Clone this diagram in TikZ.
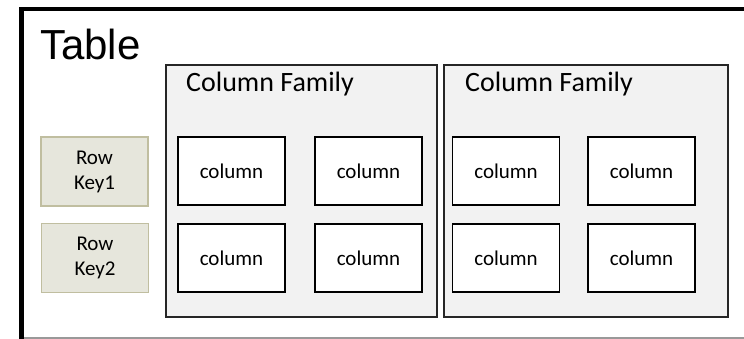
\documentclass[tikz,border=0pt]{standalone}
\usepackage{fontspec}
\setmainfont{Carlito}
\newfontfamily\arialfont{Liberation Sans}
\definecolor{keyfill}{RGB}{230,230,220}
\definecolor{keyline}{RGB}{192,190,160}
\definecolor{famfill}{RGB}{242,242,242}

\begin{document}
\begin{tikzpicture}[x=1pt,y=-1pt,
    family/.style={draw=black!85,fill=famfill,line width=1.3pt,minimum width=#1,minimum height=252pt,inner sep=0pt},
    colbox/.style={draw=black,fill=white,line width=1.6pt,minimum width=107pt,minimum height=68pt,inner sep=0pt,font=\fontsize{21}{25}\selectfont},
    rowkey/.style={draw=keyline,fill=keyfill,line width=1.5pt,minimum width=107pt,minimum height=69pt,inner sep=0pt,align=center,font=\fontsize{21}{25}\selectfont},
    caption/.style={anchor=base west,inner sep=0pt,font=\fontsize{28}{32}\selectfont}]
            \useasboundingbox (0,0) rectangle (744,339);
            % table frame
            \draw[black!40,line width=1.5pt] (21.5,338) -- (744,338);
            \draw[line width=4.5pt] (21.5,339) -- (21.5,9) -- (744,9);
            \node[anchor=base west,inner sep=0pt,font=\arialfont\fontsize{42}{46}\selectfont] (tbl) at (40,60) {Table};
            % column families
            \node[family=271pt] (cf1) at (301.5,191) {};
            \node[family=284pt] (cf2) at (586,191) {};
            \node[caption] (cf1name) at (186,92) {Column Family};
            \node[caption] (cf2name) at (465,92) {Column Family};
            % row keys
            \node[rowkey] (rk1) at (94.5,171.5) {Row\\Key1};
            \node[rowkey] (rk2) at (95,258) {Row\\Key2};
            % columns
            \begin{scope}[every node/.style={colbox}]
                \node (c11) at (231.5,171) {column};
                \node (c12) at (368.5,171) {column};
                \node (c21) at (231.5,258) {column};
                \node (c22) at (368.5,258) {column};
                \node (c13) at (506,171) {column};
                \node (c14) at (641.5,171) {column};
                \node (c23) at (506,258) {column};
                \node (c24) at (641.5,258) {column};
            \end{scope}
        \end{tikzpicture}
\end{document}
